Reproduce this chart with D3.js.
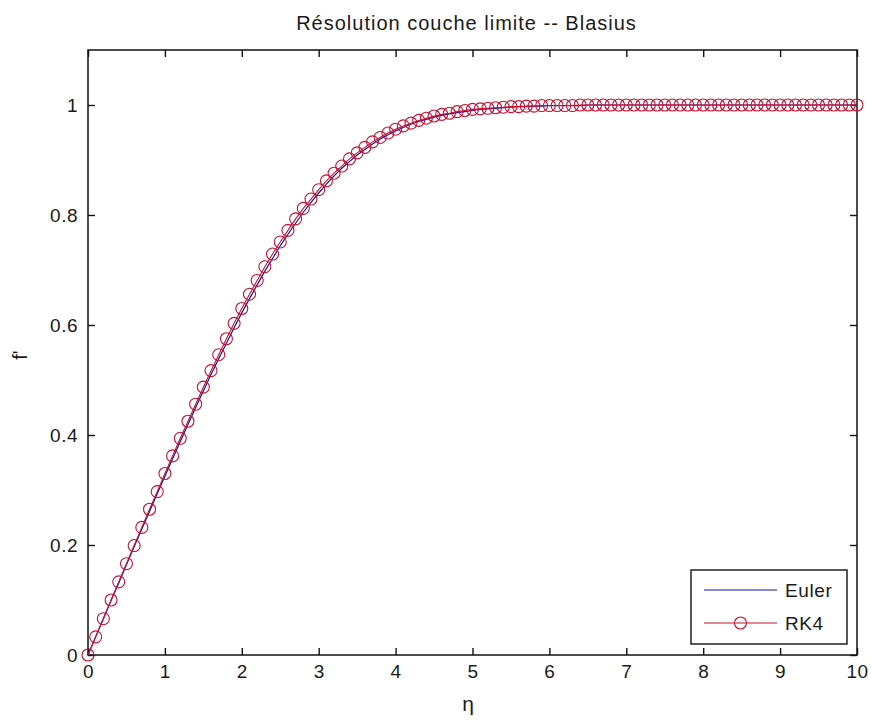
<!DOCTYPE html>
<html>
<head>
<meta charset="utf-8">
<script src="https://cdn.jsdelivr.net/npm/d3@7"></script>
<style>
  body { margin: 0; background: #fff; }
  svg text { font-family: "Liberation Sans", Arial, sans-serif; fill: #1a1a1a; }
</style>
</head>
<body>
<svg id="svg" width="871" height="720"></svg>
<script>
// eta grid (step 0.1)
var eta = [0.0,0.1,0.2,0.3,0.4,0.5,0.6,0.7,0.8,0.9,
  1.0,1.1,1.2,1.3,1.4,1.5,1.6,1.7,1.8,1.9,
  2.0,2.1,2.2,2.3,2.4,2.5,2.6,2.7,2.8,2.9,
  3.0,3.1,3.2,3.3,3.4,3.5,3.6,3.7,3.8,3.9,
  4.0,4.1,4.2,4.3,4.4,4.5,4.6,4.7,4.8,4.9,
  5.0,5.1,5.2,5.3,5.4,5.5,5.6,5.7,5.8,5.9,
  6.0,6.1,6.2,6.3,6.4,6.5,6.6,6.7,6.8,6.9,
  7.0,7.1,7.2,7.3,7.4,7.5,7.6,7.7,7.8,7.9,
  8.0,8.1,8.2,8.3,8.4,8.5,8.6,8.7,8.8,8.9,
  9.0,9.1,9.2,9.3,9.4,9.5,9.6,9.7,9.8,9.9,10.0];

// f' from RK4
var rk4 = [0.000,0.033,0.066,0.100,0.133,0.166,0.199,0.232,0.265,0.297,
  0.330,0.362,0.394,0.425,0.456,0.487,0.517,0.546,0.575,0.603,
  0.630,0.656,0.681,0.706,0.729,0.751,0.772,0.793,0.812,0.829,
  0.846,0.862,0.876,0.889,0.902,0.913,0.923,0.933,0.941,0.949,
  0.956,0.962,0.967,0.972,0.976,0.980,0.983,0.985,0.988,0.990,
  0.992,0.993,0.994,0.995,0.996,0.997,0.997,0.998,0.998,0.999,
  0.999,0.999,0.999,0.999,1.000,1.000,1.000,1.000,1.000,1.000,
  1.000,1.000,1.000,1.000,1.000,1.000,1.000,1.000,1.000,1.000,
  1.000,1.000,1.000,1.000,1.000,1.000,1.000,1.000,1.000,1.000,
  1.000,1.000,1.000,1.000,1.000,1.000,1.000,1.000,1.000,1.000,1.000];

// f' from Euler
var euler = [0.000,0.033,0.066,0.099,0.131,0.164,0.197,0.229,0.261,0.293,
  0.325,0.357,0.388,0.419,0.450,0.480,0.510,0.539,0.567,0.595,
  0.622,0.648,0.673,0.698,0.721,0.744,0.765,0.785,0.805,0.823,
  0.840,0.856,0.871,0.885,0.897,0.909,0.919,0.929,0.938,0.946,
  0.953,0.959,0.965,0.970,0.974,0.978,0.981,0.984,0.986,0.988,
  0.990,0.992,0.993,0.994,0.995,0.996,0.997,0.997,0.998,0.998,
  0.999,0.999,0.999,0.999,0.999,1.000,1.000,1.000,1.000,1.000,
  1.000,1.000,1.000,1.000,1.000,1.000,1.000,1.000,1.000,1.000,
  1.000,1.000,1.000,1.000,1.000,1.000,1.000,1.000,1.000,1.000,
  1.000,1.000,1.000,1.000,1.000,1.000,1.000,1.000,1.000,1.000,1.000];

var xTicks = [0,1,2,3,4,5,6,7,8,9,10];
var yTicks = [0,0.2,0.4,0.6,0.8,1];
var seriesNames = ["Euler", "RK4"];

drawChart();

function drawChart() {
    var svg = d3.select("svg");
    var mLeft = 88, mRight = 857, mTop = 50, mBottom = 655;

    var x = d3.scaleLinear().domain([0, 10]).range([mLeft, mRight]);
    var y = d3.scaleLinear().domain([0, 1.1]).range([mBottom, mTop]);

    var blue = "#1414a0", red = "#c41232";

    // axes (MATLAB style: ticks inside, on all four sides)
    var tickLen = 7;
    svg.append("g").attr("transform", "translate(0," + mBottom + ")")
        .call(d3.axisBottom(x).tickValues(xTicks).tickSizeInner(-tickLen).tickSizeOuter(0).tickPadding(10).tickFormat(d3.format("d")));
    svg.append("g").attr("transform", "translate(0," + mTop + ")")
        .call(d3.axisTop(x).tickValues(xTicks).tickSizeInner(-tickLen).tickSizeOuter(0).tickFormat(""));
    svg.append("g").attr("transform", "translate(" + mLeft + ",0)")
        .call(d3.axisLeft(y).tickValues(yTicks).tickSizeInner(-tickLen).tickSizeOuter(0).tickPadding(10)
            .tickFormat(function (d) { return d === 0 || d === 1 ? d : d3.format(".1f")(d); }));
    svg.append("g").attr("transform", "translate(" + mRight + ",0)")
        .call(d3.axisRight(y).tickValues(yTicks).tickSizeInner(-tickLen).tickSizeOuter(0).tickFormat(""));

    svg.selectAll(".domain").remove();
    svg.selectAll(".tick line").attr("stroke", "#111").attr("stroke-width", 1.4);
    svg.selectAll(".tick text")
        .attr("font-size", 19)
        .attr("letter-spacing", 0.5)
        .attr("font-family", "Liberation Sans, Arial, sans-serif")
        .attr("fill", "#1a1a1a");

    svg.append("rect")
        .attr("x", mLeft).attr("y", mTop)
        .attr("width", mRight - mLeft).attr("height", mBottom - mTop)
        .attr("fill", "none").attr("stroke", "#111").attr("stroke-width", 1.5);

    // curves
    var line = d3.line()
        .x(function (d, i) { return x(eta[i]); })
        .y(function (d) { return y(d); });

    svg.append("path").datum(euler)
        .attr("d", line).attr("fill", "none").attr("stroke", blue).attr("stroke-width", 1.2);

    svg.append("path").datum(rk4)
        .attr("d", line).attr("fill", "none").attr("stroke", red).attr("stroke-width", 1.1);

    svg.append("g").selectAll("circle")
        .data(rk4)
        .enter().append("circle")
        .attr("cx", function (d, i) { return x(eta[i]); })
        .attr("cy", function (d) { return y(d); })
        .attr("r", 6)
        .attr("fill", "none")
        .attr("stroke", red)
        .attr("stroke-width", 1.1);

    // title and labels
    svg.append("text")
        .attr("x", (mLeft + mRight) / 2 - 6).attr("y", 30)
        .attr("text-anchor", "middle").attr("font-size", 20)
        .attr("letter-spacing", 1)
        .text("Résolution couche limite -- Blasius");

    svg.append("text")
        .attr("x", 468).attr("y", 711)
        .attr("text-anchor", "middle").attr("font-size", 21)
        .text("η");

    svg.append("text")
        .attr("transform", "translate(27," + 355 + ") rotate(-90)")
        .attr("text-anchor", "middle").attr("font-size", 20)
        .text("f'");

    // legend
    var lg = svg.append("g");
    lg.append("rect")
        .attr("x", 691).attr("y", 570).attr("width", 156).attr("height", 74)
        .attr("fill", "#fff").attr("stroke", "#111").attr("stroke-width", 1.4);

    var legendColors = [blue, red];
    seriesNames.forEach(function (name, i) {
        var ly = 590 + i * 33;
        lg.append("line")
            .attr("x1", 704).attr("x2", 777).attr("y1", ly).attr("y2", ly)
            .attr("stroke", legendColors[i]).attr("stroke-width", 1.2);
        if (name === "RK4") {
            lg.append("circle").attr("cx", 740.5).attr("cy", ly).attr("r", 6)
                .attr("fill", "none").attr("stroke", red).attr("stroke-width", 1.1);
        }
        lg.append("text")
            .attr("x", 785).attr("y", ly + 7)
            .attr("font-size", 19)
            .attr("letter-spacing", 0.6)
            .text(name);
    });
}
</script>
</body>
</html>
